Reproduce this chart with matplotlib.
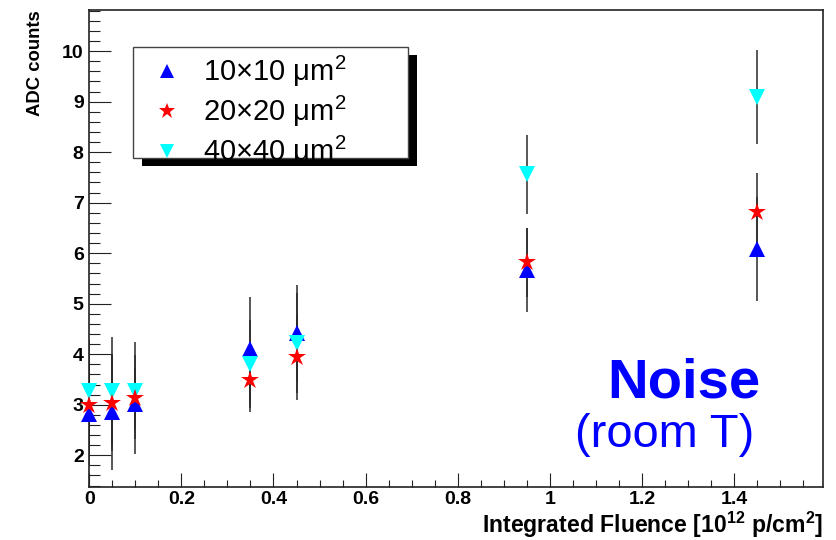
import matplotlib
matplotlib.use('Agg')
import numpy as np
import matplotlib.pyplot as plt
from matplotlib.patches import Rectangle
from matplotlib.ticker import MultipleLocator, FuncFormatter

plt.rcParams['font.family'] = ['Liberation Sans', 'DejaVu Sans']
plt.rcParams['mathtext.fontset'] = 'custom'
plt.rcParams['mathtext.rm'] = 'Liberation Sans'
plt.rcParams['mathtext.bf'] = 'Liberation Sans:bold'

# integrated fluence [10^12 p/cm^2]
fluence = [0.0, 0.05, 0.1, 0.35, 0.45, 0.95, 1.45]

# noise in ADC counts and errors, per pixel size
noise_10 = [2.81, 2.85, 3.01, 4.10, 4.42, 5.67, 6.08]
err_10 = [1.0, 1.15, 0.98, 1.03, 0.95, 0.83, 1.03]
noise_20 = [3.00, 3.04, 3.13, 3.50, 3.94, 5.82, 6.81]
err_20 = [0.9, 0.95, 0.6, 0.64, 0.84, 0.68, 0.77]
noise_40 = [3.28, 3.28, 3.28, 3.80, 4.22, 7.56, 9.10]
err_40 = [1.0, 1.07, 0.96, 0.87, 0.99, 0.78, 0.93]

labels = ['10×10 μm$^{2}$', '20×20 μm$^{2}$', '40×40 μm$^{2}$']

fig = plt.figure(figsize=(8.36, 5.40), dpi=100)
ax = fig.add_axes([0.1068, 0.0987, 0.878, 0.8828])

series = [
    (noise_10, err_10, '^', '#0000ff', 11.5, 3),
    (noise_20, err_20, '*', '#ff0000', 13.5, 5),
    (noise_40, err_40, 'v', '#00ffff', 11.5, 4),
]
handles = []
for vals, errs, mk, col, ms, z in series:
    cont = ax.errorbar(fluence, vals, yerr=errs, fmt=mk, color=col, ms=ms,
                       mew=0, ecolor='#2a2a2a', elinewidth=1.1, capsize=3.8,
                       capthick=1.4, zorder=z)
    # keep the bars under all markers
    for c in cont[1] + cont[2]:
        c.set_zorder(2)
    cont[0].set_clip_on(False)
    handles.append(cont[0])

ax.set_xlim(0, 1.594)
ax.set_ylim(1.378, 10.815)

ax.xaxis.set_major_locator(MultipleLocator(0.2))
ax.xaxis.set_minor_locator(MultipleLocator(0.05))
ax.yaxis.set_major_locator(MultipleLocator(1))
ax.yaxis.set_minor_locator(MultipleLocator(0.2))
ax.xaxis.set_major_formatter(FuncFormatter(lambda v, p: '%g' % round(v, 2)))

ax.tick_params(which='both', direction='in', top=False, right=False,
               width=0.8, color='#222222')
ax.tick_params(axis='y', which='major', length=15.8, pad=4)
ax.tick_params(axis='y', which='minor', length=7.9)
ax.tick_params(axis='x', which='major', length=10.3, pad=3)
ax.tick_params(axis='x', which='minor', length=5.1)
for lab in ax.get_xticklabels() + ax.get_yticklabels():
    lab.set_fontweight('bold')
    lab.set_fontsize(14)
for sp in ax.spines.values():
    sp.set_linewidth(1.2)
    sp.set_color('#222222')

ax.set_ylabel('ADC counts', fontsize=13.3, fontweight='bold', loc='top')
ax.yaxis.set_label_coords(-0.062, 1.0)
ax.set_xlabel(r'Integrated Fluence [10$^{\mathbf{12}}$ p/cm$^{\mathbf{2}}$]',
              fontsize=16.6, fontweight='bold', loc='right')
ax.xaxis.set_label_coords(1.0, -0.048)

ax.text(0.9137, 0.1875, 'Noise', transform=ax.transAxes, ha='right',
        va='baseline', fontsize=40.5, fontweight='bold', color='#0000ff')
ax.text(0.9056, 0.0827, '(room T)', transform=ax.transAxes, ha='right',
        va='baseline', fontsize=33.8, color='#0000ff')

# legend box with ROOT style drop shadow
box = (0.0591, 0.6889, 0.3755, 0.2329)
ax.add_patch(Rectangle((box[0] + 0.0123, box[1] - 0.0168), box[2], box[3],
                       transform=ax.transAxes, facecolor='black',
                       edgecolor='none', zorder=9))
ax.add_patch(Rectangle(box[:2], box[2], box[3], transform=ax.transAxes,
                       facecolor='white', edgecolor='#444444', lw=1.0,
                       zorder=9.5))

leg = ax.legend(handles, labels, loc='center left', bbox_to_anchor=(0.0854, 0.7867),
                frameon=False, fontsize=21, borderaxespad=0, borderpad=0,
                handlelength=1.0, handletextpad=0.75, labelspacing=0.16,
                markerscale=0.9)
leg.set_zorder(10)

fig.savefig('out.png', dpi=100)
